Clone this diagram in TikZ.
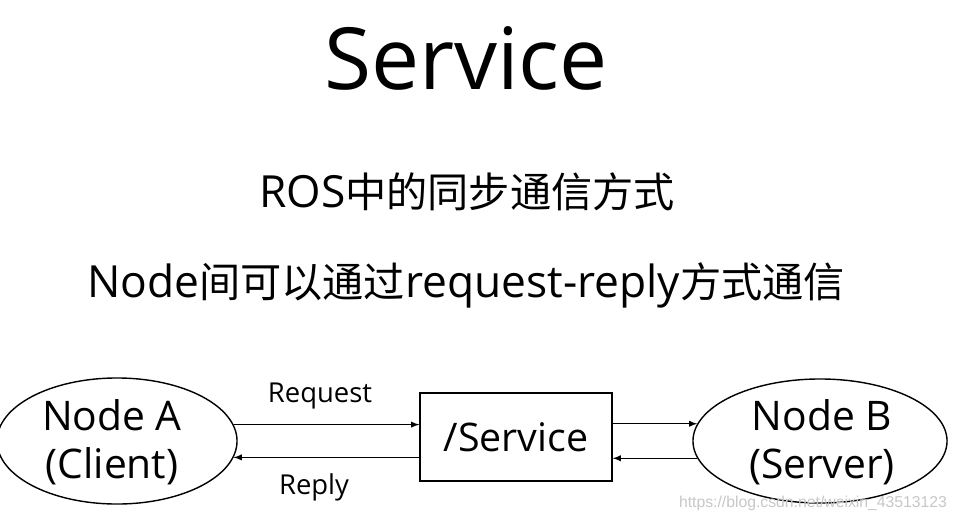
\documentclass[tikz,border=0pt]{standalone}
\usepackage{fontspec}
\setmainfont{Open Sans}
\newfontfamily\cjk[Scale=0.93]{Noto Sans CJK SC}
\newfontfamily\wmfont{Liberation Sans}
\usetikzlibrary{arrows,calc,positioning,shapes.geometric}

\begin{document}
\begin{tikzpicture}[x=0.025cm,y=-0.025cm,
  rosnode/.style={draw,line width=1pt,ellipse,inner sep=0pt},
  rostext/.style={align=center,font=\fontsize{29}{34}\selectfont},
  svcbox/.style={draw,line width=1pt,rectangle,minimum width=4.8cm,minimum height=2.2cm},
  msg/.style={line width=1pt,-latex}]
\useasboundingbox (0,0) rectangle (959,521);

% heading and the two lines under it
\node (title) at (466,58) {\fontsize{61}{72}\selectfont Service};
\node (sync) at (467,192) {\fontsize{31.5}{38}\selectfont ROS{\cjk 中的同步通信方式}};
\node (how) at (466,285) {\fontsize{31.5}{38}\selectfont Node{\cjk 间可以通过}request-reply{\cjk 方式通信}};

% client, service, server
\node[rosnode,minimum width=6cm,minimum height=3.15cm] (nodeA) at (117,441) {};
\node[rostext] (nodeAtxt) at (112,442) {Node A\\(Client)};

\node[svcbox] (svc) at (516,437) {\fontsize{28}{34}\selectfont /Service};

\node[rosnode,minimum width=6.35cm,minimum height=3.1cm] (nodeB) at (820,441) {};
\node[rostext] (nodeBtxt) at (822,442) {Node B\\(Server)};

% request and reply
\draw[msg] (nodeA.8) -- (nodeA.8 -| svc.west);
\draw[msg] (svc.west |- nodeA.-8) -- (nodeA.-8);
\draw[msg] (svc.east |- nodeB.172) -- (nodeB.172);
\draw[msg] (nodeB.188) -- (svc.east |- nodeB.188);

\node[] (req) at (320,396) {\fontsize{19.5}{24}\selectfont Request};
\node[] (rep) at (314,487) {\fontsize{19.5}{24}\selectfont Reply};

\node[text=black!22] (mark) at (813,503) {\wmfont\fontsize{11.2}{13}\selectfont https://blog.csdn.net/weixin\_43513123};
\end{tikzpicture}
\end{document}
